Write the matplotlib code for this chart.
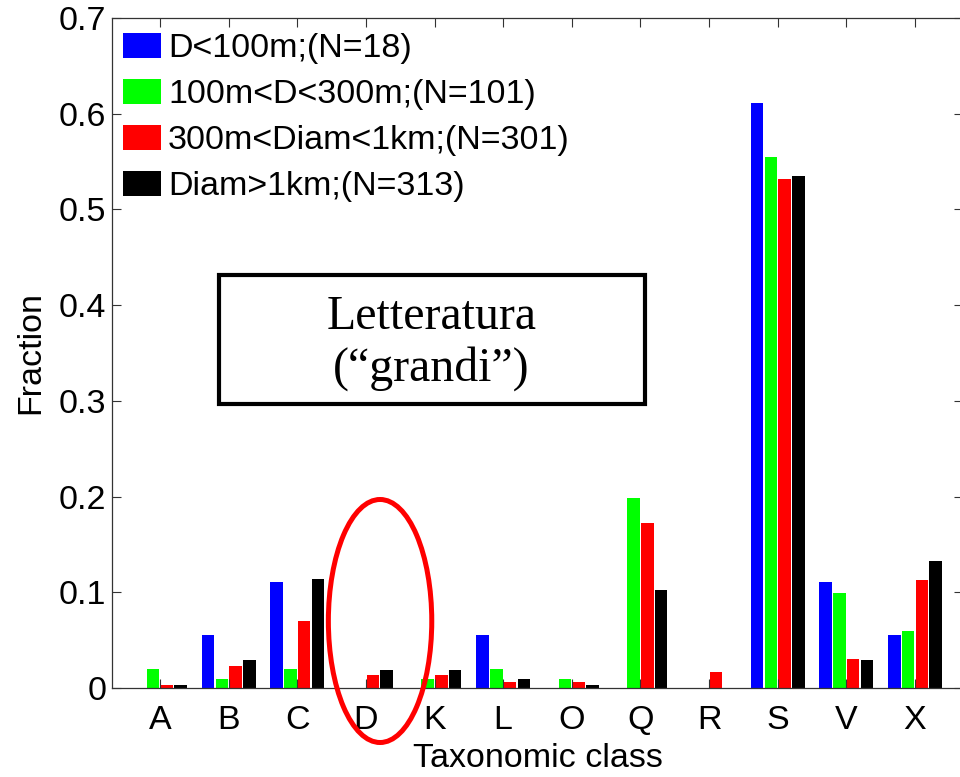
import numpy as np
import matplotlib
matplotlib.use("Agg")
import matplotlib.pyplot as plt
from matplotlib.patches import Ellipse, Rectangle

# taxonomic classes and fraction per size bin
classes = ["A", "B", "C", "D", "K", "L", "O", "Q", "R", "S", "V", "X"]
series_labels = ["D<100m;(N=18)", "100m<D<300m;(N=101)",
                 "300m<Diam<1km;(N=301)", "Diam>1km;(N=313)"]
frac_small = [0.0, 0.0556, 0.1111, 0.0, 0.0, 0.0556, 0.0, 0.0, 0.0, 0.6111, 0.1111, 0.0556]
frac_mid = [0.0198, 0.0099, 0.0198, 0.0, 0.0099, 0.0198, 0.0099, 0.1980, 0.0, 0.5545, 0.0990, 0.0594]
frac_large = [0.0033, 0.0233, 0.0698, 0.0133, 0.0133, 0.0066, 0.0066, 0.1728, 0.0166, 0.5316, 0.0299, 0.1130]
frac_huge = [0.0032, 0.0288, 0.1140, 0.0192, 0.0192, 0.0096, 0.0032, 0.1022, 0.0, 0.5350, 0.0288, 0.1330]
yticks = [0, 0.1, 0.2, 0.3, 0.4, 0.5, 0.6, 0.7]
ytick_labels = ["0", "0.1", "0.2", "0.3", "0.4", "0.5", "0.6", "0.7"]

colors = ["#0000ff", "#00ff00", "#ff0000", "#000000"]
plt.rcParams["font.family"] = ["Liberation Sans", "DejaVu Sans"]
fs = 24.5

fig = plt.figure(figsize=(9.6, 7.77), dpi=100)
ax = fig.add_axes([112 / 960, 1 - 688 / 777, (963 - 112) / 960, (688 - 18) / 777])

x = np.arange(len(classes))
offsets = [-0.3, -0.1, 0.1, 0.3]
all_series = [frac_small, frac_mid, frac_large, frac_huge]
for vals, off, col, lab in zip(all_series, offsets, colors, series_labels):
    ax.bar(x + off, vals, width=0.182, color=col, linewidth=0, label=lab)

ax.set_xlim(-0.7, 11.7)
ax.set_ylim(0, 0.7)
ax.set_xticks(x)
ax.set_xticklabels(classes)
ax.set_yticks(yticks)
ax.set_yticklabels(ytick_labels)
ax.tick_params(axis="both", direction="in", length=6.5, width=0.8,
               labelsize=fs, color="#333333")
ax.tick_params(axis="x", top=True, pad=12)
ax.tick_params(axis="y", right=True, pad=4)
for sp in ax.spines.values():
    sp.set_linewidth(0.9)
    sp.set_color("#333333")

ax.set_xlabel("Taxonomic class", fontsize=fs, labelpad=5)
ax.set_ylabel("Fraction", fontsize=fs, labelpad=9)

leg = ax.legend(loc="upper left", bbox_to_anchor=(0.013, 0.978), frameon=False,
                fontsize=fs, handlelength=1.12, handleheight=0.75,
                handletextpad=0.2, labelspacing=0.43, borderpad=0,
                borderaxespad=0)

# annotation box
ax.add_patch(Rectangle((0.126, 0.424), 0.5, 0.1925, transform=ax.transAxes,
                       facecolor="white", edgecolor="black", linewidth=3,
                       zorder=5))
ax.text(0.375, 0.515, "Letteratura\n(\u201cgrandi\u201d)", transform=ax.transAxes,
        ha="center", va="center", fontsize=34.5, family="Liberation Serif",
        linespacing=1.2, zorder=6)

# red ellipse around class D
ax.add_patch(Ellipse((0.315, 0.1), 0.1215, 0.3627, transform=ax.transAxes,
                     fill=False, edgecolor="red", linewidth=3.6, clip_on=False,
                     zorder=7))

fig.savefig("out.png", dpi=100)
